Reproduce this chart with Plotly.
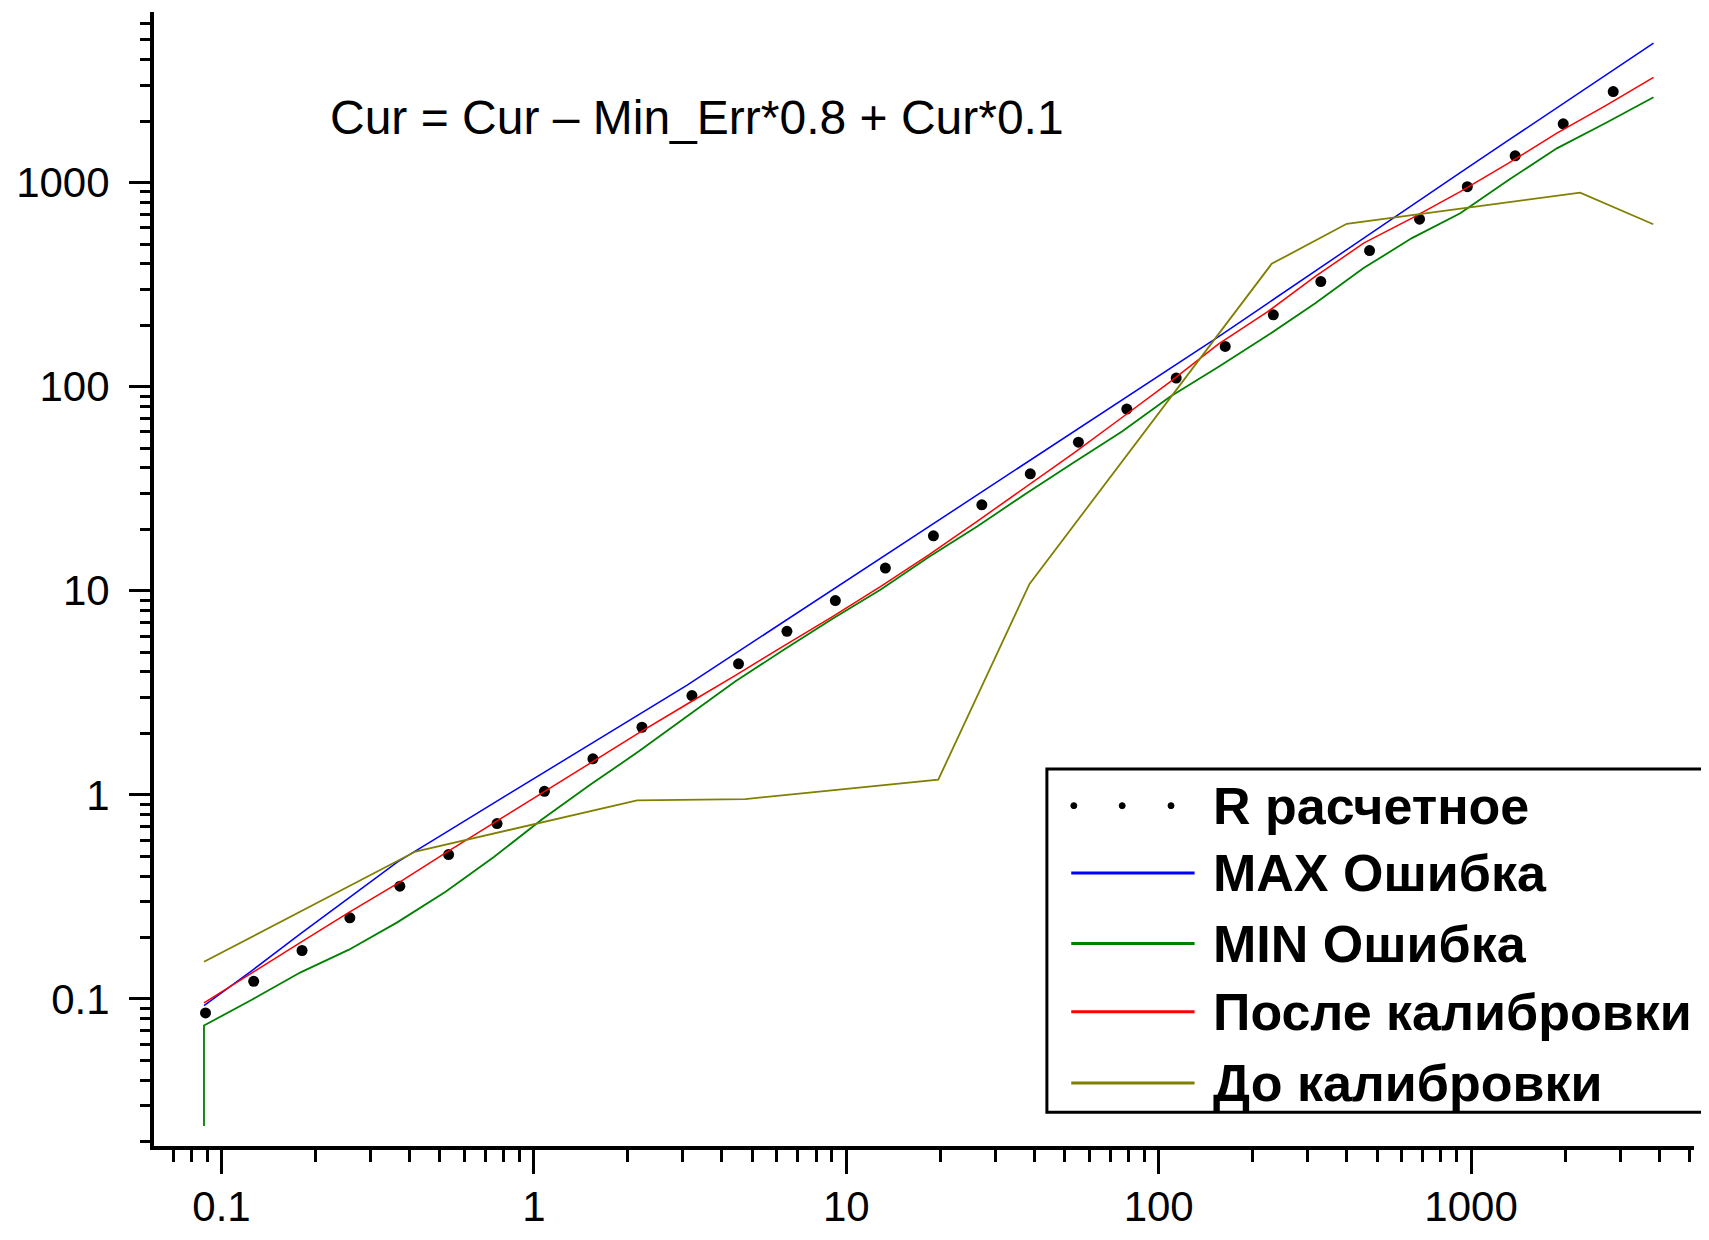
import plotly.graph_objects as go

# ---------------- data ----------------
r_calc_x = [0.0889, 0.1268, 0.1811, 0.2576, 0.3724, 0.5333, 0.7621, 1.081, 1.545, 2.218,
            3.206, 4.519, 6.457, 9.226, 13.34, 19.01, 27.16, 38.82, 55.34, 79.07,
            113.8, 163.3, 232.8, 330.4, 473.2, 683.9, 972.7, 1384, 1972, 2851]
r_calc_y = [0.0853, 0.1219, 0.1726, 0.2495, 0.3565, 0.5093, 0.7228, 1.040, 1.500, 2.143,
            3.062, 4.385, 6.324, 8.954, 12.91, 18.58, 26.36, 37.41, 53.46, 77.62,
            110.2, 157.4, 224.9, 327.3, 464.5, 662.2, 955.0, 1352, 1941, 2793]

curve_x = [0.0879, 0.1255, 0.1792, 0.2559, 0.3653, 0.5216, 0.7447, 1.063, 1.518, 2.168,
           3.095, 4.419, 6.310, 9.010, 12.86, 18.37, 26.23, 37.44, 53.46, 76.33,
           109.0, 155.6, 222.2, 317.2, 452.9, 646.7, 923.4, 1318, 1882, 2688, 3837]
max_err = [0.0927, 0.138, 0.209, 0.313, 0.468, 0.653, 0.912, 1.274, 1.778, 2.477,
           3.451, 4.93, 7.05, 10.07, 14.39, 20.56, 29.38, 41.98, 60.1, 85.9,
           122.7, 175.8, 254.7, 368.9, 535.8, 778.0, 1119, 1614, 2323, 3350, 4819]
min_err_start = 0.0238
min_err = [0.0740, 0.0993, 0.1349, 0.1742, 0.2371, 0.3350, 0.4955, 0.7586, 1.122, 1.633,
           2.421, 3.597, 5.140, 7.261, 10.12, 14.62, 20.65, 29.79, 42.56, 60.26,
           89.54, 125.3, 177.4, 256.4, 381.1, 534.6, 707.9, 1030, 1472, 1954, 2618]
after_cal = [0.0955, 0.1349, 0.189, 0.2655, 0.367, 0.519, 0.728, 1.021, 1.432, 2.009,
             2.786, 3.846, 5.370, 7.447, 10.47, 15.00, 21.88, 31.99, 47.21, 70.63,
             105.9, 162.2, 231.7, 346.7, 504.7, 669.9, 903.6, 1245, 1746, 2377, 3281]
before_cal_x = [0.0879, 0.418, 2.14, 4.75, 19.7, 38.6, 230, 400, 2234, 3830]
before_cal_y = [0.152, 0.527, 0.938, 0.953, 1.186, 10.8, 400, 628, 893, 625]

tick_vals = [0.1, 1, 10, 100, 1000]
tick_text = ["0.1", "1", "10", "100", "1000"]

series_names = ["R расчетное", "MAX Ошибка", "MIN Ошибка", "После калибровки", "До калибровки"]
series_colors = ["#000000", "#0000FF", "#008000", "#FF0000", "#808000"]
formula_text = "Cur = Cur \u2013 Min_Err*0.8 + Cur*0.1"

# ---------------- figure ----------------
fig = go.Figure()
fig.add_trace(go.Scatter(x=r_calc_x, y=r_calc_y, mode="markers", name=series_names[0],
                         marker=dict(color=series_colors[0], size=11, symbol="circle")))
fig.add_trace(go.Scatter(x=curve_x, y=max_err, mode="lines", name=series_names[1],
                         line=dict(color=series_colors[1], width=1.5)))
fig.add_trace(go.Scatter(x=[curve_x[0]] + curve_x, y=[min_err_start] + min_err, mode="lines",
                         name=series_names[2], line=dict(color=series_colors[2], width=1.8)))
fig.add_trace(go.Scatter(x=curve_x, y=after_cal, mode="lines", name=series_names[3],
                         line=dict(color=series_colors[3], width=1.5)))
fig.add_trace(go.Scatter(x=before_cal_x, y=before_cal_y, mode="lines", name=series_names[4],
                         line=dict(color=series_colors[4], width=1.8)))

tick_font = dict(family="Liberation Sans, Arial, sans-serif", size=42, color="black")
common_axis = dict(type="log", showline=True, linecolor="black", linewidth=4,
                   ticks="outside", tickwidth=3, tickcolor="black",
                   tickmode="array", tickvals=tick_vals, ticktext=tick_text,
                   showgrid=False, zeroline=False, tickfont=tick_font, automargin=False)

fig.update_layout(
    width=1693, height=1224,
    margin=dict(l=145.5, r=7, t=4, b=85.5, autoexpand=False),
    plot_bgcolor="white", paper_bgcolor="white",
    showlegend=False,
    font=dict(family="Liberation Sans, Arial, sans-serif", color="black"),
    xaxis=dict(range=[-1.216, 3.7136], ticklen=24, ticklabelstandoff=-3,
               minor=dict(dtick="D1", ticks="outside", ticklen=12, tickwidth=3,
                          tickcolor="black", showgrid=False),
               **common_axis),
    yaxis=dict(range=[-1.721, 3.836], ticklen=21, ticklabelstandoff=11,
               minor=dict(dtick="D1", ticks="outside", ticklen=10, tickwidth=3,
                          tickcolor="black", showgrid=False),
               **common_axis),
)

# formula annotation
fig.add_annotation(xref="paper", yref="paper", x=0.1130, y=0.9066, xanchor="left", yanchor="middle",
                   text=formula_text, showarrow=False,
                   font=dict(family="Liberation Sans, Arial, sans-serif", size=48, color="black"))

# custom legend (box runs past the right edge, as in the original)
legend_box = dict(x0=0.5798, x1=1.08, y0=0.0298, y1=0.3325)
legend_rows = [0.3001, 0.2408, 0.1785, 0.1183, 0.0556]
legend_line_x = (0.5956, 0.6757)
legend_dot_x = [0.5973, 0.6287, 0.6604]
legend_text_x = 0.6864

fig.add_shape(type="rect", xref="paper", yref="paper", **legend_box,
              line=dict(color="black", width=3), fillcolor="white", layer="above")
for px in legend_dot_x:
    fig.add_shape(type="circle", xref="paper", yref="paper", xsizemode="pixel", ysizemode="pixel",
                  xanchor=px, yanchor=legend_rows[0], x0=-3, x1=3, y0=-3, y1=3,
                  line=dict(color="black", width=1), fillcolor="black", layer="above")
for i in range(1, 5):
    fig.add_shape(type="line", xref="paper", yref="paper",
                  x0=legend_line_x[0], x1=legend_line_x[1], y0=legend_rows[i], y1=legend_rows[i],
                  line=dict(color=series_colors[i], width=3), layer="above")
for i, name in enumerate(series_names):
    fig.add_annotation(xref="paper", yref="paper", x=legend_text_x, y=legend_rows[i],
                       xanchor="left", yanchor="middle", text=name, showarrow=False,
                       font=dict(family="Liberation Sans, Arial, sans-serif", size=52,
                                 color="black", weight="bold"))

fig.write_html("out.html")
